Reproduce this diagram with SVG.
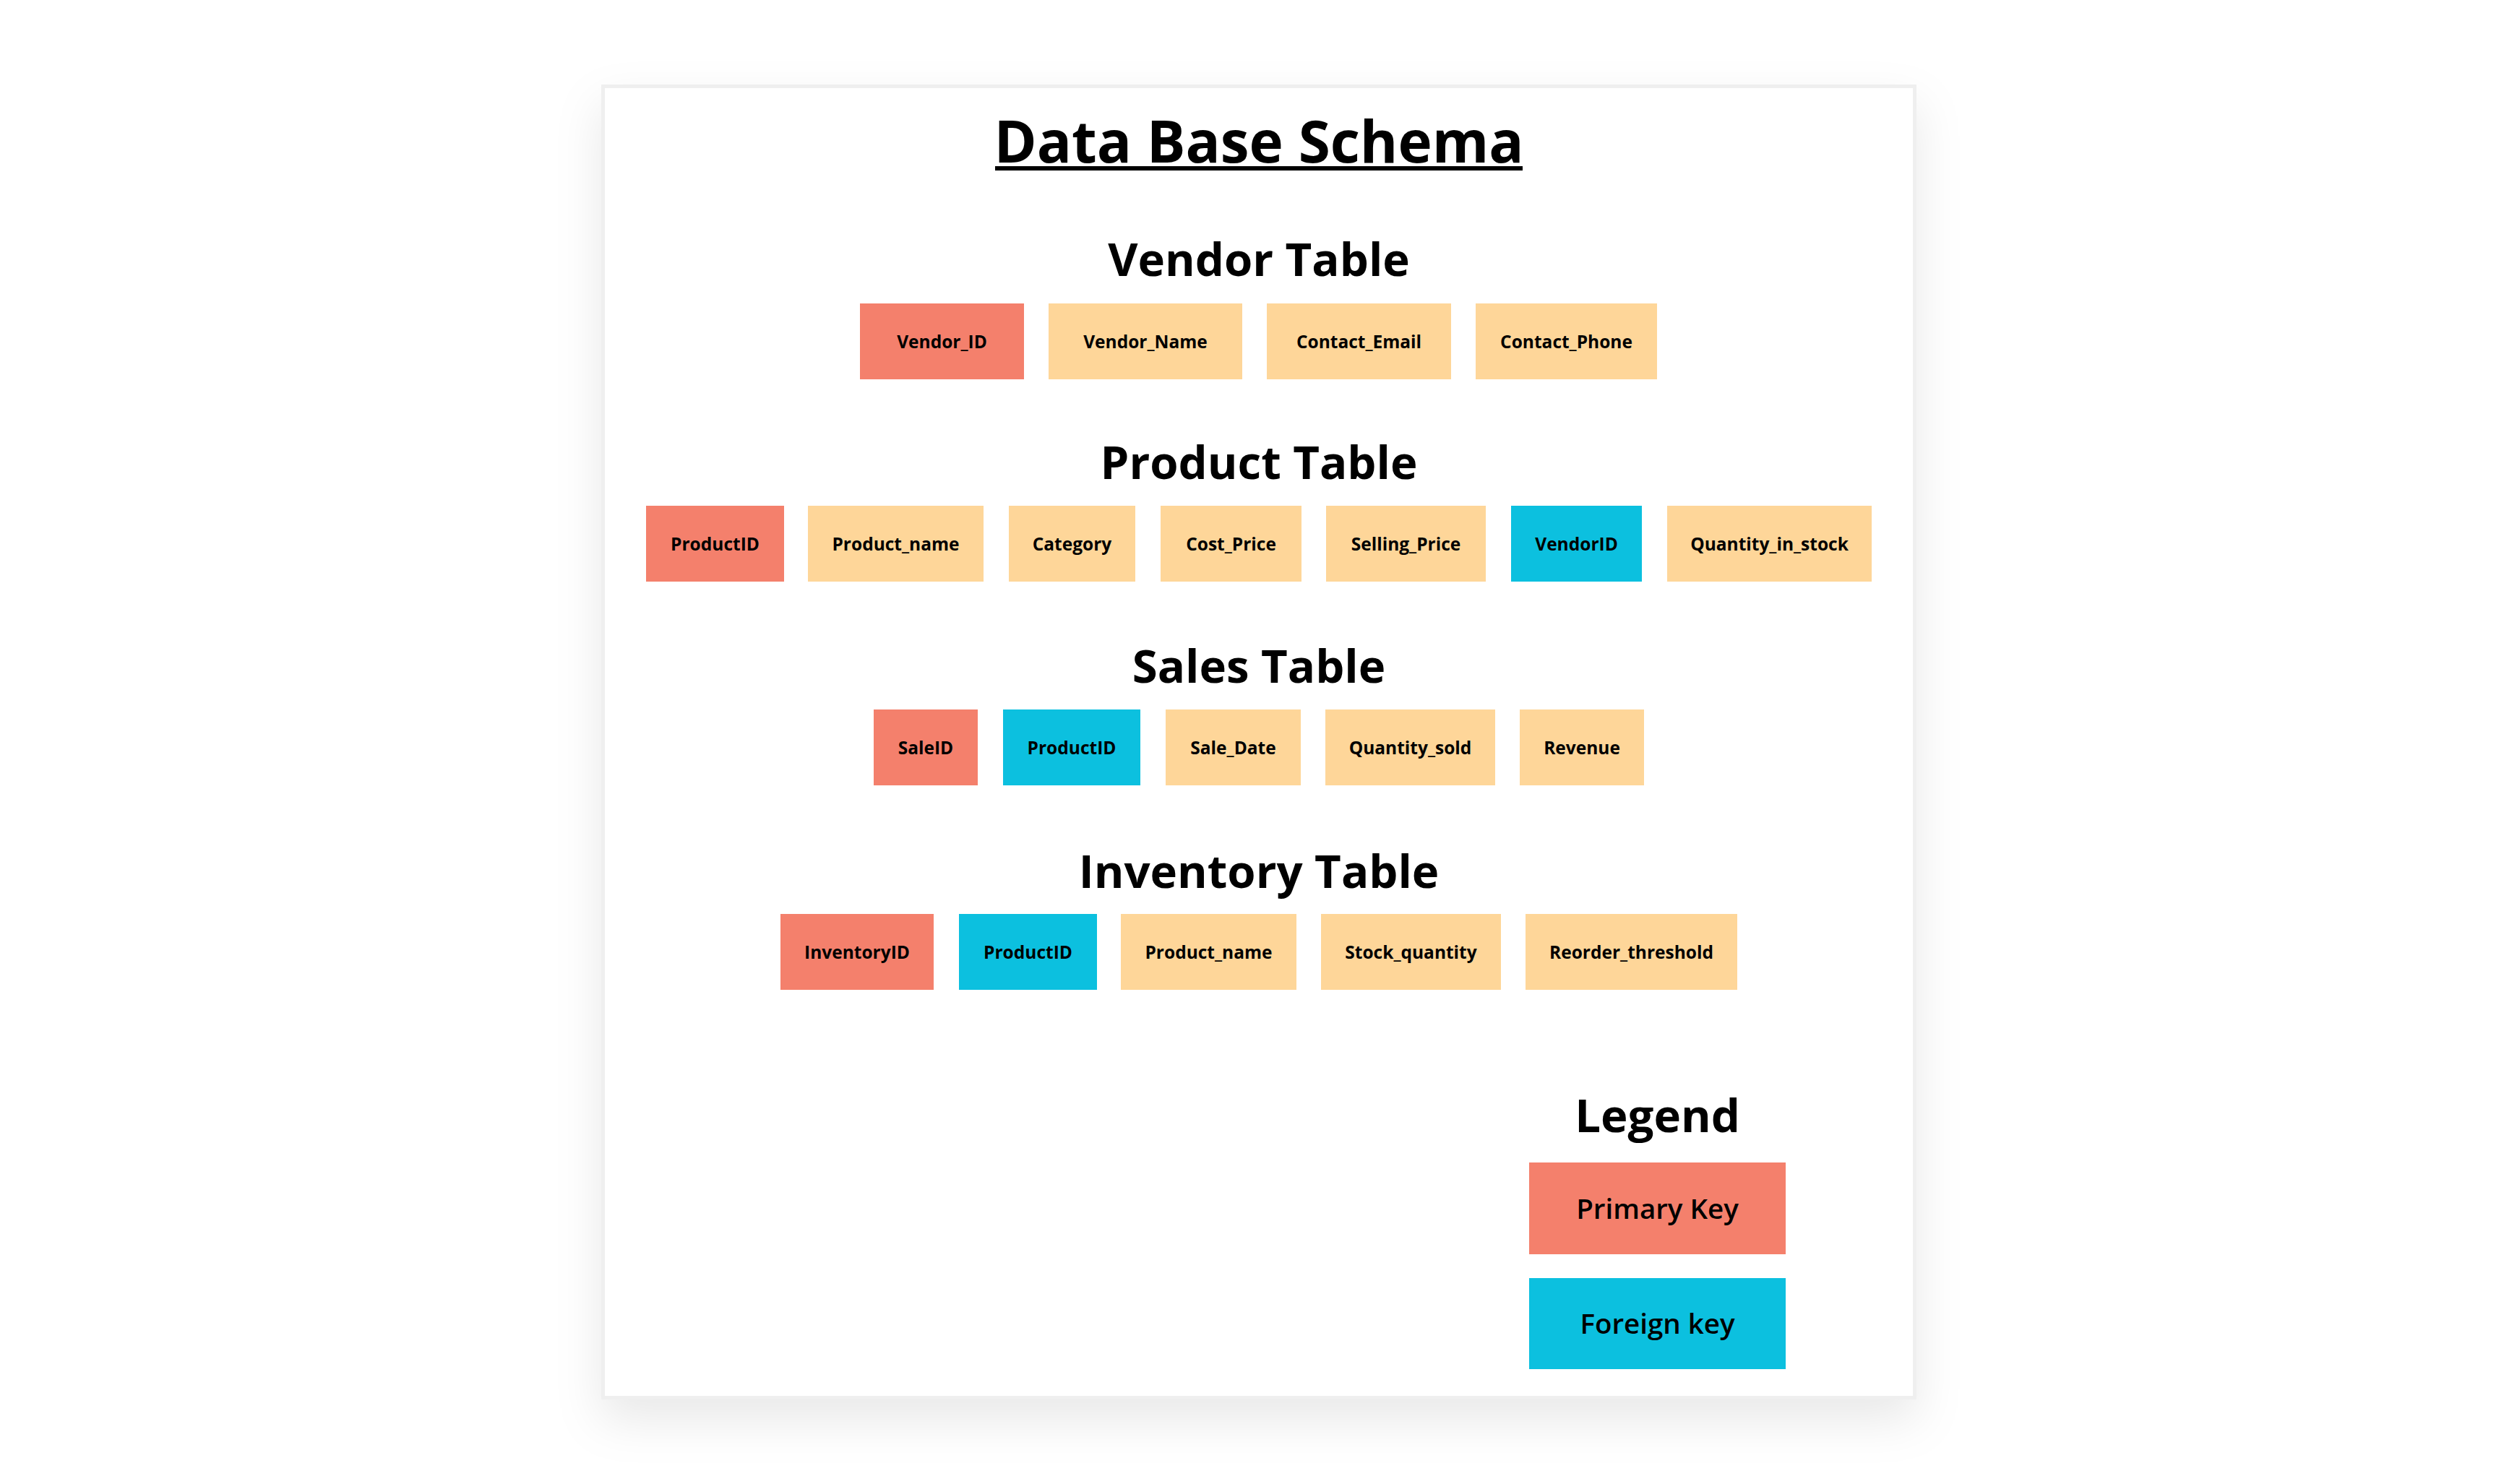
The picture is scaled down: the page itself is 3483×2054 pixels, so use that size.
<svg xmlns="http://www.w3.org/2000/svg" width="3483" height="2054" viewBox="0 0 3483 2054">
  <defs>
    <filter id="shadow" x="-10%" y="-10%" width="120%" height="125%">
      <feDropShadow dx="0" dy="28" stdDeviation="32" flood-color="#000000" flood-opacity="0.09"/>
    </filter>
    <style>
      text { font-family: "Open Sans", "Noto Sans", "Liberation Sans", sans-serif; fill: #000000; text-anchor: middle; }
      .title { font-size: 80px; font-weight: 700; }
      .heading { font-size: 63.5px; font-weight: 700; }
      .lbl { font-size: 24.5px; font-weight: 700; }
      .legend-lbl { font-size: 38.5px; font-weight: 600; }
      .pk { fill: #F4806C; }
      .fk { fill: #0CC0DF; }
      .attr { fill: #FED699; }
    </style>
  </defs>

  <rect x="0" y="0" width="3483" height="2054" fill="#FFFFFF"/>

  <g id="card">
    <rect x="834.5" y="119.5" width="1815" height="1815" fill="#FFFFFF" stroke="#EFEFEF" stroke-width="5" filter="url(#shadow)"/>
  </g>

  <g id="title">
    <text class="title" x="1742" y="225">Data Base Schema</text>
    <rect x="1377" y="230" width="730" height="6" fill="#000000"/>
  </g>

  <g id="vendor-table">
    <text class="heading" x="1742" y="382">Vendor Table</text>
    <g id="vendor-Vendor_ID"><rect class="pk" x="1190" y="420" width="227" height="105"/><text class="lbl" x="1303.5" y="482">Vendor_ID</text></g>
    <g id="vendor-Vendor_Name"><rect class="attr" x="1451" y="420" width="268" height="105"/><text class="lbl" x="1585" y="482">Vendor_Name</text></g>
    <g id="vendor-Contact_Email"><rect class="attr" x="1753" y="420" width="255" height="105"/><text class="lbl" x="1880.5" y="482">Contact_Email</text></g>
    <g id="vendor-Contact_Phone"><rect class="attr" x="2042" y="420" width="251" height="105"/><text class="lbl" x="2167.5" y="482">Contact_Phone</text></g>
  </g>

  <g id="product-table">
    <text class="heading" x="1742" y="663">Product Table</text>
    <g id="product-ProductID"><rect class="pk" x="894" y="700" width="191" height="105"/><text class="lbl" x="989.5" y="762">ProductID</text></g>
    <g id="product-Product_name"><rect class="attr" x="1118" y="700" width="243" height="105"/><text class="lbl" x="1239.5" y="762">Product_name</text></g>
    <g id="product-Category"><rect class="attr" x="1396" y="700" width="175" height="105"/><text class="lbl" x="1483.5" y="762">Category</text></g>
    <g id="product-Cost_Price"><rect class="attr" x="1606" y="700" width="195" height="105"/><text class="lbl" x="1703.5" y="762">Cost_Price</text></g>
    <g id="product-Selling_Price"><rect class="attr" x="1835" y="700" width="221" height="105"/><text class="lbl" x="1945.5" y="762">Selling_Price</text></g>
    <g id="product-VendorID"><rect class="fk" x="2091" y="700" width="181" height="105"/><text class="lbl" x="2181.5" y="762">VendorID</text></g>
    <g id="product-Quantity_in_stock"><rect class="attr" x="2307" y="700" width="283" height="105"/><text class="lbl" x="2448.5" y="762">Quantity_in_stock</text></g>
  </g>

  <g id="sales-table">
    <text class="heading" x="1742" y="945">Sales Table</text>
    <g id="sales-SaleID"><rect class="pk" x="1209" y="982" width="144" height="105"/><text class="lbl" x="1281" y="1044">SaleID</text></g>
    <g id="sales-ProductID"><rect class="fk" x="1388" y="982" width="190" height="105"/><text class="lbl" x="1483" y="1044">ProductID</text></g>
    <g id="sales-Sale_Date"><rect class="attr" x="1613" y="982" width="187" height="105"/><text class="lbl" x="1706.5" y="1044">Sale_Date</text></g>
    <g id="sales-Quantity_sold"><rect class="attr" x="1834" y="982" width="235" height="105"/><text class="lbl" x="1951.5" y="1044">Quantity_sold</text></g>
    <g id="sales-Revenue"><rect class="attr" x="2103" y="982" width="172" height="105"/><text class="lbl" x="2189" y="1044">Revenue</text></g>
  </g>

  <g id="inventory-table">
    <text class="heading" x="1742" y="1229">Inventory Table</text>
    <g id="inventory-InventoryID"><rect class="pk" x="1080" y="1265" width="212" height="105"/><text class="lbl" x="1186" y="1327">InventoryID</text></g>
    <g id="inventory-ProductID"><rect class="fk" x="1327" y="1265" width="191" height="105"/><text class="lbl" x="1422.5" y="1327">ProductID</text></g>
    <g id="inventory-Product_name"><rect class="attr" x="1551" y="1265" width="243" height="105"/><text class="lbl" x="1672.5" y="1327">Product_name</text></g>
    <g id="inventory-Stock_quantity"><rect class="attr" x="1828" y="1265" width="249" height="105"/><text class="lbl" x="1952.5" y="1327">Stock_quantity</text></g>
    <g id="inventory-Reorder_threshold"><rect class="attr" x="2111" y="1265" width="293" height="105"/><text class="lbl" x="2257.5" y="1327">Reorder_threshold</text></g>
  </g>

  <g id="legend">
    <text class="heading" x="2293.5" y="1567">Legend</text>
    <g id="legend-primary-key"><rect class="pk" x="2116" y="1609" width="355" height="127"/><text class="legend-lbl" x="2293.5" y="1687">Primary Key</text></g>
    <g id="legend-foreign-key"><rect class="fk" x="2116" y="1769" width="355" height="126"/><text class="legend-lbl" x="2293.5" y="1846">Foreign key</text></g>
  </g>

  <g id="connectors"></g>
</svg>
